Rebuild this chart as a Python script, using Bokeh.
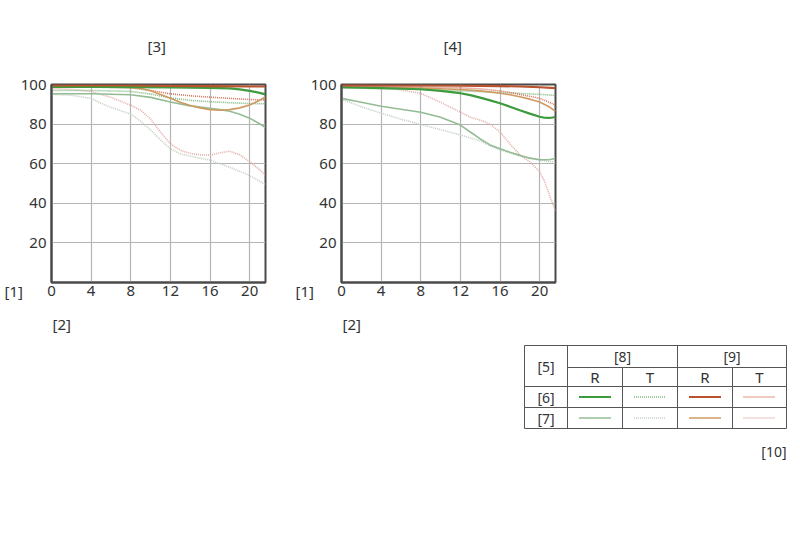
from bokeh.plotting import figure
from bokeh.layouts import row, column
from bokeh.models import Range1d, FixedTicker, Spacer, Title
from bokeh.embed import file_html
from bokeh.resources import INLINE
from bokeh.core.properties import value

# ---------------- data ----------------
x_ticks = [0, 4, 8, 12, 16, 20]
y_ticks = [20, 40, 60, 80, 100]
grid_x = [4, 8, 12, 16, 20]
grid_y = [20, 40, 60, 80]
x_max = 21.6

# Panel [3]
p3_red_R6_x = [0, 4, 8, 12, 16, 20, 21.6]
p3_red_R6_y = [99.5, 99.5, 99.5, 99.3, 99.2, 99.0, 99.0]
p3_red_T6_x = [0, 4, 8, 10, 12, 14, 16, 18, 20, 21.6]
p3_red_T6_y = [99, 98.8, 98.3, 97, 95.3, 94.3, 93.6, 93, 92.4, 92.2]
p3_red_R7_x = [0, 4, 8, 9, 10, 11, 12, 13, 14, 15, 16, 17, 18, 19, 20, 21, 21.6]
p3_red_R7_y = [99, 99, 98.5, 98, 96.8, 95, 93, 91, 89.4, 88.2, 87.3, 87, 87.3, 88.2, 89.6, 92, 93.8]
p3_red_T7_x = [0, 2, 4, 6, 8, 9, 10, 11, 12, 13, 14, 15, 16, 17, 18, 19, 20, 21, 21.6]
p3_red_T7_y = [98, 97.5, 96.5, 93.5, 89.5, 87, 82.5, 76, 70, 66.8, 65.2, 64.5, 64.3, 65.5, 66.3, 64.5, 61, 57, 54]
p3_grn_R6_x = [0, 4, 8, 12, 16, 18, 19, 20, 21, 21.6]
p3_grn_R6_y = [98.8, 98.8, 98.7, 98.5, 98.3, 98, 97.5, 96.8, 95.8, 95]
p3_grn_T6_x = [0, 4, 8, 10, 12, 14, 16, 18, 20, 21.6]
p3_grn_T6_y = [97, 97, 96.5, 95.2, 93.2, 92, 91.3, 90.8, 90.4, 90.3]
p3_grn_R7_x = [0, 4, 8, 10, 12, 14, 16, 17, 18, 19, 20, 21, 21.6]
p3_grn_R7_y = [95.3, 95.3, 94.8, 93.5, 91.2, 89.2, 88, 87.3, 86.5, 85, 83, 80.2, 78.3]
p3_grn_T7_x = [0, 2, 4, 5, 6, 8, 9, 10, 11, 12, 13, 14, 16, 18, 20, 21, 21.6]
p3_grn_T7_y = [95, 94.6, 93, 90.5, 88.5, 85, 81.5, 77, 72, 67.5, 65, 63.8, 61.8, 58.2, 54, 51.2, 49.5]

# Panel [4]
p4_red_R6_x = [0, 4, 8, 12, 16, 18, 20, 21.6]
p4_red_R6_y = [99.6, 99.6, 99.5, 99.4, 99.2, 99, 98.6, 98.2]
p4_red_T6_x = [0, 4, 8, 12, 14, 16, 17, 18, 19, 20, 21, 21.6]
p4_red_T6_y = [99, 99, 98.8, 98.3, 97.8, 96.8, 96, 95, 94, 93, 91, 89.5]
p4_red_R7_x = [0, 4, 8, 12, 14, 16, 17, 18, 19, 20, 21, 21.6]
p4_red_R7_y = [98.6, 98.5, 98.2, 97.5, 96.8, 95.6, 94.8, 93.8, 92.6, 91.2, 88.6, 86.5]
p4_red_T7_x = [0, 2, 4, 5, 6, 8, 10, 12, 13, 14, 15, 16, 17, 18, 19, 20, 20.5, 21, 21.6]
p4_red_T7_y = [99, 98.8, 98.5, 98, 97.3, 95.5, 91, 86, 83.5, 82, 80, 76, 70, 64.5, 61, 56, 51, 44, 36]
p4_grn_R6_x = [0, 4, 8, 10, 12, 13, 14, 15, 16, 17, 18, 19, 20, 20.5, 21, 21.6]
p4_grn_R6_y = [98.6, 98.2, 97.6, 96.8, 95.6, 94.6, 93.4, 92, 90.5, 88.8, 87, 85.3, 83.7, 83.2, 83.1, 83.6]
p4_grn_T6_x = [0, 4, 8, 12, 16, 20, 21.6]
p4_grn_T6_y = [98.2, 98, 97.5, 96.8, 96.0, 95, 94.5]
p4_grn_R7_x = [0, 2, 4, 6, 8, 10, 12, 13, 14, 15, 16, 17, 18, 19, 20, 21, 21.6]
p4_grn_R7_y = [93, 91, 89, 87.5, 86, 83.5, 79.5, 76, 72.5, 69.5, 67.5, 65.8, 64.2, 62.8, 62, 62, 62.8]
p4_grn_T7_x = [0, 2, 4, 6, 8, 10, 12, 13, 14, 15, 16, 18, 20, 21, 21.6]
p4_grn_T7_y = [92.5, 88.8, 85.5, 82.5, 79.8, 77.2, 74.5, 73, 71.5, 69, 67, 64, 61.8, 61, 61]

# ---------------- styles ----------------
TXT = "#333333"
FONT = "Noto Sans"
STYLES = {
    "grn_R6": dict(line_color="#3d9b3d", line_width=2.2, line_dash="solid"),
    "grn_T6": dict(line_color="#7fb87f", line_width=1.6, line_dash="1 1"),
    "grn_R7": dict(line_color="#94bc94", line_width=1.6, line_dash="solid"),
    "grn_T7": dict(line_color="#c2cfc2", line_width=1.6, line_dash="1 1"),
    "red_R6": dict(line_color="#b8532e", line_width=2.2, line_dash="solid"),
    "red_T6": dict(line_color="#d4735a", line_width=1.6, line_dash="1 1"),
    "red_R7": dict(line_color="#cf9a62", line_width=1.6, line_dash="solid"),
    "red_T7": dict(line_color="#e3aca8", line_width=1.6, line_dash="1 1"),
}
DRAW_ORDER = ["grn_T7", "red_T7", "grn_R7", "grn_T6", "red_T6", "red_R7", "grn_R6", "red_R6"]

ROW_H = 348
FRAME_TOP = 84
FRAME_H = 198
FRAME_W = 214
RIGHT_B = 3


def txt_title(text, align, offset, standoff, valign):
    return Title(text=text, align=align, offset=offset, standoff=standoff, vertical_align=valign,
                 text_font=FONT, text_font_size="15px", text_font_style="normal", text_color=TXT)


def panel(curves, title, title_offset, left_b, lab1_offset):
    p = figure(width=left_b + FRAME_W + RIGHT_B, height=ROW_H,
               x_range=Range1d(0, x_max), y_range=Range1d(0, 100),
               output_backend="svg", toolbar_location=None,
               min_border_left=left_b, min_border_right=RIGHT_B,
               min_border_top=FRAME_TOP, min_border_bottom=ROW_H - FRAME_TOP - FRAME_H)
    p.title = txt_title(title, "left", title_offset, 57, "bottom")
    p.outline_line_color = "#4a4a4a"
    p.outline_line_width = 2
    p.xaxis.ticker = FixedTicker(ticks=x_ticks)
    p.yaxis.ticker = FixedTicker(ticks=y_ticks)
    p.xgrid.ticker = FixedTicker(ticks=grid_x)
    p.ygrid.ticker = FixedTicker(ticks=grid_y)
    p.grid.grid_line_color = "#b4b4b4"
    p.grid.grid_line_width = 1.2
    for ax in (p.xaxis, p.yaxis):
        ax.axis_line_color = "#4a4a4a"
        ax.axis_line_width = 2
        ax.major_tick_line_color = None
        ax.minor_tick_line_color = None
        ax.major_tick_out = 0
        ax.major_tick_in = 0
        ax.minor_tick_out = 0
        ax.minor_tick_in = 0
        ax.major_label_text_font = FONT
        ax.major_label_text_font_size = "15px"
        ax.major_label_text_color = TXT
    p.yaxis.major_label_standoff = 5
    p.xaxis.major_label_standoff = 3
    for key in DRAW_ORDER:
        xs, ys = curves[key]
        p.line(xs, ys, **STYLES[key])
    p.add_layout(txt_title("[1]", "left", lab1_offset, -36, "top"), "below")
    p.add_layout(txt_title("[2]", "left", 1, 26, "bottom"), "below")
    return p


curves3 = {
    "red_R6": (p3_red_R6_x, p3_red_R6_y), "red_T6": (p3_red_T6_x, p3_red_T6_y),
    "red_R7": (p3_red_R7_x, p3_red_R7_y), "red_T7": (p3_red_T7_x, p3_red_T7_y),
    "grn_R6": (p3_grn_R6_x, p3_grn_R6_y), "grn_T6": (p3_grn_T6_x, p3_grn_T6_y),
    "grn_R7": (p3_grn_R7_x, p3_grn_R7_y), "grn_T7": (p3_grn_T7_x, p3_grn_T7_y),
}
curves4 = {
    "red_R6": (p4_red_R6_x, p4_red_R6_y), "red_T6": (p4_red_T6_x, p4_red_T6_y),
    "red_R7": (p4_red_R7_x, p4_red_R7_y), "red_T7": (p4_red_T7_x, p4_red_T7_y),
    "grn_R6": (p4_grn_R6_x, p4_grn_R6_y), "grn_T6": (p4_grn_T6_x, p4_grn_T6_y),
    "grn_R7": (p4_grn_R7_x, p4_grn_R7_y), "grn_T7": (p4_grn_T7_x, p4_grn_T7_y),
}

p1 = panel(curves3, "[3]", 96, 51, -47)
p2 = panel(curves4, "[4]", 102, 341 - (51 + FRAME_W + RIGHT_B), -46)

# ---------------- legend table (page-pixel coordinates) ----------------
LX0, LY0, LW, LH = 520, 344, 272, 130
leg = figure(width=LW, height=LH, x_range=Range1d(LX0, LX0 + LW), y_range=Range1d(LY0 + LH, LY0),
             output_backend="svg", toolbar_location=None, min_border=0,
             x_axis_type=None, y_axis_type=None)
leg.outline_line_color = None
leg.grid.visible = False

cx = [524, 567, 622, 677, 732, 786]
ry = [345, 367, 386, 407, 428]
hx0 = [cx[0], cx[1], cx[0], cx[0], cx[0]]
hx1 = [cx[5]] * 5
leg.segment(x0=hx0, y0=ry, x1=hx1, y1=ry, line_color="#555555", line_width=1)
vy0 = [ry[0], ry[0], ry[1], ry[0], ry[1], ry[0]]
vy1 = [ry[4]] * 6
leg.segment(x0=cx, y0=vy0, x1=cx, y1=vy1, line_color="#555555", line_width=1)

tfont = value(FONT)
leg.text(x=[(cx[0] + cx[1]) / 2, (cx[1] + cx[3]) / 2, (cx[3] + cx[5]) / 2,
            (cx[0] + cx[1]) / 2, (cx[0] + cx[1]) / 2],
         y=[(ry[0] + ry[2]) / 2, (ry[0] + ry[1]) / 2, (ry[0] + ry[1]) / 2,
            (ry[2] + ry[3]) / 2, (ry[3] + ry[4]) / 2],
         text=["[5]", "[8]", "[9]", "[6]", "[7]"],
         text_font=tfont, text_font_size="14px", text_color=TXT,
         text_align="center", text_baseline="middle")
leg.text(x=[(cx[i] + cx[i + 1]) / 2 for i in range(1, 5)],
         y=[(ry[1] + ry[2]) / 2] * 4, text=["R", "T", "R", "T"],
         text_font=tfont, text_font_size="15px", text_color=TXT,
         text_align="center", text_baseline="middle")
leg.text(x=[786], y=[451], text=["[10]"], text_font=tfont, text_font_size="14px",
         text_color=TXT, text_align="right", text_baseline="middle")

cells = [("grn_R6", 1, 2), ("grn_T6", 2, 2), ("red_R6", 3, 2), ("red_T6", 4, 2),
         ("grn_R7", 1, 3), ("grn_T7", 2, 3), ("red_R7", 3, 3), ("red_T7", 4, 3)]
for key, ci, ri in cells:
    mx = (cx[ci] + cx[ci + 1]) / 2
    my = (ry[ri] + ry[ri + 1]) / 2
    leg.line([mx - 16, mx + 16], [my, my], **STYLES[key])

leg_row = row(Spacer(width=LX0, height=LH), leg, spacing=0)
leg_row.margin = (LY0 - ROW_H, 0, 0, 0)
layout = column(row(p1, p2, spacing=0), leg_row, spacing=0)

open("out.html", "w").write(file_html(layout, INLINE))
